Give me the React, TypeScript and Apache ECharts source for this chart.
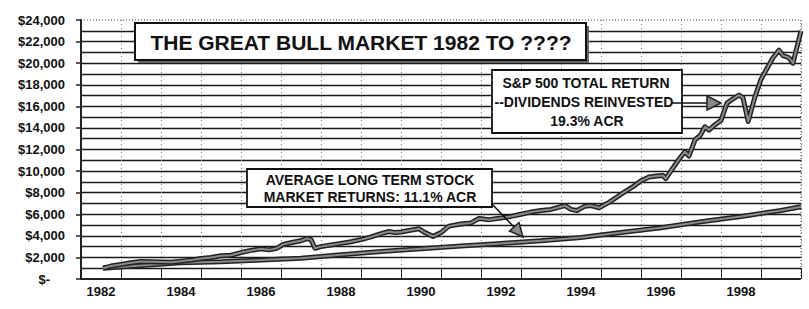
import React, { useEffect, useRef } from "react";
import * as echarts from "echarts";

const yearCategories = ["1982","1983","1984","1985","1986","1987","1988","1989","1990","1991","1992","1993","1994","1995","1996","1997","1998","1999"];

const spYears = [1982.55,1982.75,1983.0,1983.25,1983.5,1983.75,1984.0,1984.25,1984.5,1984.75,1985.0,1985.25,1985.5,1985.75,1986.0,1986.25,1986.5,1986.7,1986.9,1987.05,1987.3,1987.5,1987.65,1987.75,1987.85,1988.0,1988.25,1988.5,1988.75,1989.0,1989.25,1989.5,1989.7,1989.85,1990.0,1990.2,1990.45,1990.6,1990.8,1991.0,1991.2,1991.5,1991.75,1991.95,1992.2,1992.5,1992.75,1993.0,1993.25,1993.5,1993.75,1994.0,1994.1,1994.25,1994.4,1994.6,1994.75,1994.95,1995.2,1995.4,1995.6,1995.8,1996.0,1996.2,1996.4,1996.55,1996.62,1996.8,1996.95,1997.1,1997.2,1997.35,1997.48,1997.6,1997.7,1997.85,1998.0,1998.15,1998.3,1998.45,1998.55,1998.68,1998.85,1999.0,1999.15,1999.3,1999.45,1999.55,1999.7,1999.8,1999.9,2000.0];
const spValues = [1000,1200,1350,1500,1620,1600,1580,1550,1650,1750,1900,2000,2150,2200,2450,2650,2800,2700,2850,3200,3400,3550,3750,3650,2850,3000,3150,3300,3450,3650,3900,4200,4400,4300,4350,4500,4650,4300,3950,4300,4900,5100,5200,5600,5500,5650,5800,6000,6200,6350,6450,6700,6800,6450,6350,6750,6800,6600,7100,7600,8100,8550,9100,9450,9550,9600,9300,10300,11100,11800,11400,12900,13300,14100,13800,14300,14700,16300,16700,17050,16800,14600,16900,18500,19500,20500,21200,20700,20500,20000,21500,23000];

const avgYears = [1982.55,1983.5,1984.5,1985.5,1986.5,1987.5,1988.5,1989.5,1990.5,1991.5,1992.5,1993.5,1994.5,1995.5,1996.5,1997.5,1998.5,1999.5,2000.0];
const avgValues = [1000,1250,1500,1600,1750,1920,2250,2550,2800,3050,3300,3550,3850,4300,4750,5300,5800,6350,6700];

const titleText = "THE GREAT BULL MARKET 1982 TO ????";
const spLabel = ["S&P 500 TOTAL RETURN", "--DIVIDENDS REINVESTED", "19.3% ACR"];
const avgLabel = ["AVERAGE LONG TERM STOCK", "MARKET RETURNS: 11.1% ACR"];

const FONT = '"Liberation Sans", Arial, Helvetica, sans-serif';

export default function App() {
  const ref = useRef<HTMLDivElement>(null);
  useEffect(() => {
    if (!ref.current) return;
    const chart = echarts.init(ref.current, null, { renderer: "svg" });
    const sp = spYears.map((y, i) => [y, spValues[i]]);
    const avg = avgYears.map((y, i) => [y, avgValues[i]]);
    const txt = (x: number, y: number, s: string, size: number) => ({
      type: "text",
      x,
      y,
      z: 102,
      style: {
        text: s,
        fontFamily: FONT,
        fontWeight: "bold",
        fontSize: size,
        fill: "#111",
        align: "center",
        verticalAlign: "middle",
      },
    });
    chart.setOption({
      animation: false,
      backgroundColor: "#fff",
      grid: {
        left: 81,
        right: 8,
        top: 20,
        bottom: 30,
        show: true,
        borderColor: "#444",
        borderWidth: 1,
        borderType: [1, 2],
      },
      xAxis: [
        {
          type: "category",
          data: yearCategories,
          boundaryGap: true,
          axisLine: { show: true, lineStyle: { color: "#222", width: 2, type: [2, 1] } },
          axisTick: { show: true, inside: true, length: 11, interval: 0, lineStyle: { color: "#222", width: 1 } },
          axisLabel: {
            interval: 1,
            margin: 6,
            color: "#111",
            fontFamily: FONT,
            fontWeight: "bold",
            fontSize: 13,
          },
          splitLine: { show: true, interval: 0, lineStyle: { color: "#777", width: 1, type: [1, 3] } },
        },
        {
          type: "value",
          min: 1982,
          max: 2000,
          show: false,
        },
      ],
      yAxis: [
        {
          type: "value",
          min: 0,
          max: 24000,
          interval: 2000,
          axisLine: { show: true, lineStyle: { color: "#222", width: 2 } },
          axisTick: { show: true, length: 5, lineStyle: { color: "#222", width: 1.5 } },
          axisLabel: {
            margin: 16,
            color: "#111",
            fontFamily: FONT,
            fontWeight: "bold",
            fontSize: 13,
            formatter: (v: number) =>
              v === 0 ? "{z|$-}" : "$" + v.toLocaleString("en-US"),
            rich: {
              z: {
                fontFamily: FONT,
                fontWeight: "bold",
                fontSize: 13,
                color: "#111",
                padding: [0, 15, 0, 0],
              },
            },
          },
          splitLine: { show: false },
        },
        {
          type: "value",
          min: 0,
          max: 24000,
          interval: 1000,
          axisLine: { show: false },
          axisTick: { show: false },
          axisLabel: { show: false },
          splitLine: {
            show: true,
            showMinLine: false,
            showMaxLine: false,
            lineStyle: { color: "#1a1a1a", width: 1.4 },
          },
        },
      ],
      series: [
        {
          type: "line",
          xAxisIndex: 1,
          yAxisIndex: 0,
          data: avg,
          showSymbol: false,
          lineStyle: { color: "#222", width: 5 },
          z: 3,
        },
        {
          type: "line",
          xAxisIndex: 1,
          yAxisIndex: 0,
          data: avg,
          showSymbol: false,
          lineStyle: { color: "#8a8a8a", width: 2 },
          z: 4,
        },
        {
          type: "line",
          xAxisIndex: 1,
          yAxisIndex: 0,
          data: sp,
          showSymbol: false,
          lineStyle: { color: "#222", width: 5, join: "round" },
          z: 5,
        },
        {
          type: "line",
          xAxisIndex: 1,
          yAxisIndex: 0,
          data: sp,
          showSymbol: false,
          lineStyle: { color: "#8a8a8a", width: 2, join: "round" },
          z: 6,
        },
      ],
      graphic: [
        { type: "rect", z: 100, shape: { x: 138, y: 26, width: 451, height: 37 }, style: { fill: "#666" } },
        { type: "rect", z: 101, shape: { x: 135, y: 23, width: 451, height: 37 }, style: { fill: "#fff", stroke: "#111", lineWidth: 2 } },
        txt(361, 42, titleText, 21),
        { type: "rect", z: 101, shape: { x: 492, y: 70, width: 190, height: 63 }, style: { fill: "#fff", stroke: "#111", lineWidth: 1.8 } },
        txt(586, 83, spLabel[0], 14),
        txt(584, 102, spLabel[1], 14),
        txt(587, 121, spLabel[2], 14),
        { type: "line", z: 102, shape: { x1: 672, y1: 103, x2: 708, y2: 103 }, style: { stroke: "#111", lineWidth: 1.5 } },
        { type: "polygon", z: 103, shape: { points: [[707, 96], [721, 103], [707, 110]] }, style: { fill: "#888", stroke: "#222", lineWidth: 1.5 } },
        { type: "rect", z: 101, shape: { x: 247, y: 169, width: 245, height: 38 }, style: { fill: "#fff", stroke: "#111", lineWidth: 1.8 } },
        txt(370, 180, avgLabel[0], 14),
        txt(370, 197, avgLabel[1], 14),
        { type: "line", z: 102, shape: { x1: 492, y1: 204, x2: 514, y2: 227 }, style: { stroke: "#111", lineWidth: 1.5 } },
        { type: "polygon", z: 103, shape: { points: [[523, 237], [509.5, 231], [519, 222.5]] }, style: { fill: "#888", stroke: "#222", lineWidth: 1.5 } },
      ],
    });
    return () => chart.dispose();
  }, []);
  return (
    <div
      ref={ref}
      style={{ position: "absolute", left: 0, top: 0, width: 809, height: 309, background: "#fff" }}
    />
  );
}
